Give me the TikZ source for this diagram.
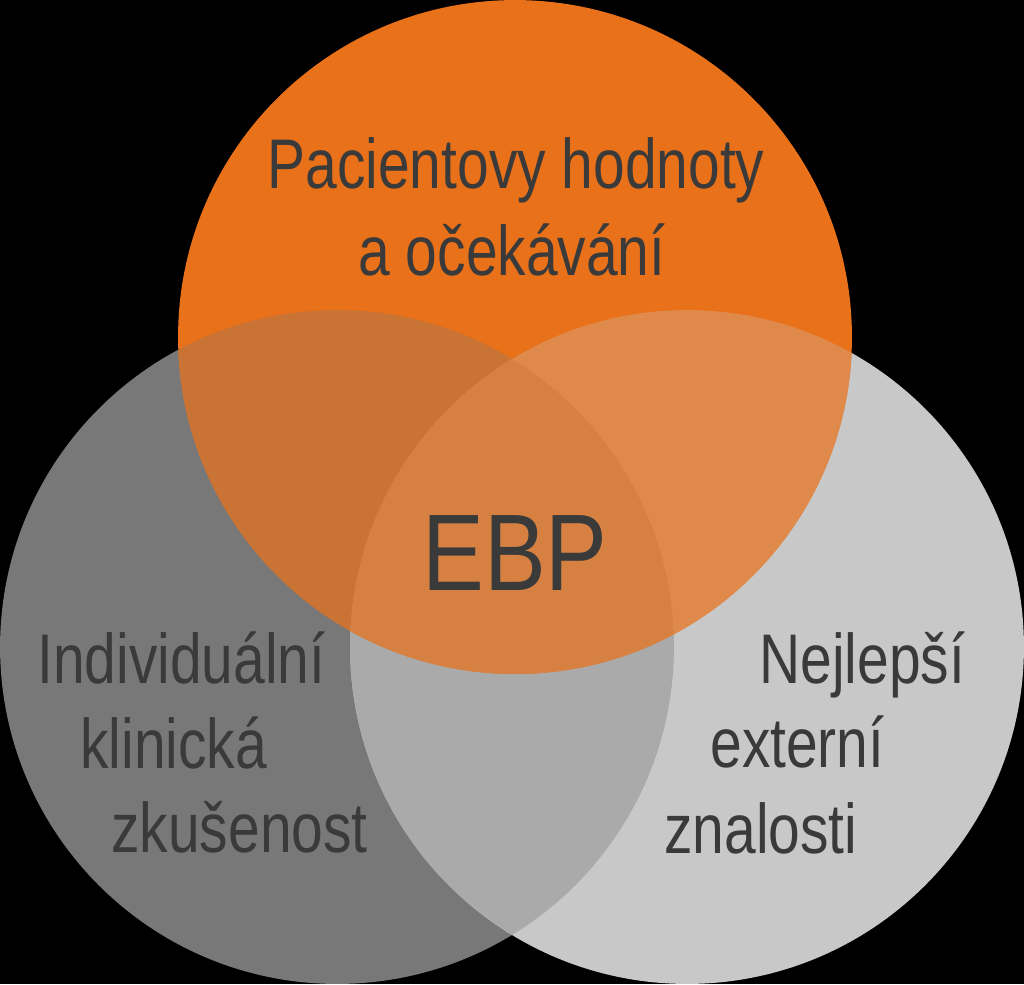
\documentclass[tikz,border=0pt]{standalone}
\usepackage{fontspec}
\usepackage{tikz}
\newfontfamily\labelfont{Liberation Sans}[FakeStretch=0.81]
\newfontfamily\ebpfont{Liberation Sans}[FakeStretch=0.85]

\definecolor{ebporange}{RGB}{232,113,26}
\definecolor{clinicgray}{RGB}{120,120,120}
\definecolor{evidgray}{RGB}{200,200,200}
\definecolor{labeltext}{RGB}{58,58,58}
\colorlet{bothgray}{evidgray!62!clinicgray}
\colorlet{orangeclinic}{ebporange!72!clinicgray}
\colorlet{orangeevid}{ebporange!72!evidgray}
\colorlet{orangecentre}{ebporange!72!bothgray}

\tikzset{
  circlelabel/.style={font=\labelfont\fontsize{40}{48}\selectfont, text=labeltext, inner sep=0pt},
  ebplabel/.style={font=\ebpfont\fontsize{62}{70}\selectfont, text=labeltext, inner sep=0pt}
}

\begin{document}
\begin{tikzpicture}[x=0.02cm, y=-0.02cm]
  \fill[black] (0,0) rectangle (1024,984);

  % three circles
  \fill[clinicgray] (337,647) circle (6.74cm);
  \fill[evidgray] (687,647) circle (6.74cm);
  \fill[ebporange] (515,337) circle (6.74cm);

  % overlaps
  \begin{scope}
    \clip (337,647) circle (6.74cm);
    \fill[bothgray] (687,647) circle (6.74cm);
    \fill[orangeclinic] (515,337) circle (6.74cm);
  \end{scope}
  \begin{scope}
    \clip (687,647) circle (6.74cm);
    \fill[orangeevid] (515,337) circle (6.74cm);
  \end{scope}
  \begin{scope}
    \clip (337,647) circle (6.74cm);
    \clip (687,647) circle (6.74cm);
    \fill[orangecentre] (515,337) circle (6.74cm);
  \end{scope}

  % labels
  \node (pacient) [circlelabel, anchor=base] at (516,188) {Pacientovy hodnoty};
  \node (ocekavani) [circlelabel, anchor=base] at (512,275) {a očekávání};
  \node (ebp) [ebplabel, anchor=base] at (515,590) {EBP};

  \node (individualni) [circlelabel, anchor=base west] at (37,683) {Individuální};
  \node (klinicka) [circlelabel, anchor=base west] at (80,768) {klinická};
  \node (zkusenost) [circlelabel, anchor=base west] at (111,852) {zkušenost};

  \node (nejlepsi) [circlelabel, anchor=base west] at (759,683) {Nejlepší};
  \node (externi) [circlelabel, anchor=base west] at (710,767) {externí};
  \node (znalosti) [circlelabel, anchor=base west] at (664,853) {znalosti};
\end{tikzpicture}
\end{document}
